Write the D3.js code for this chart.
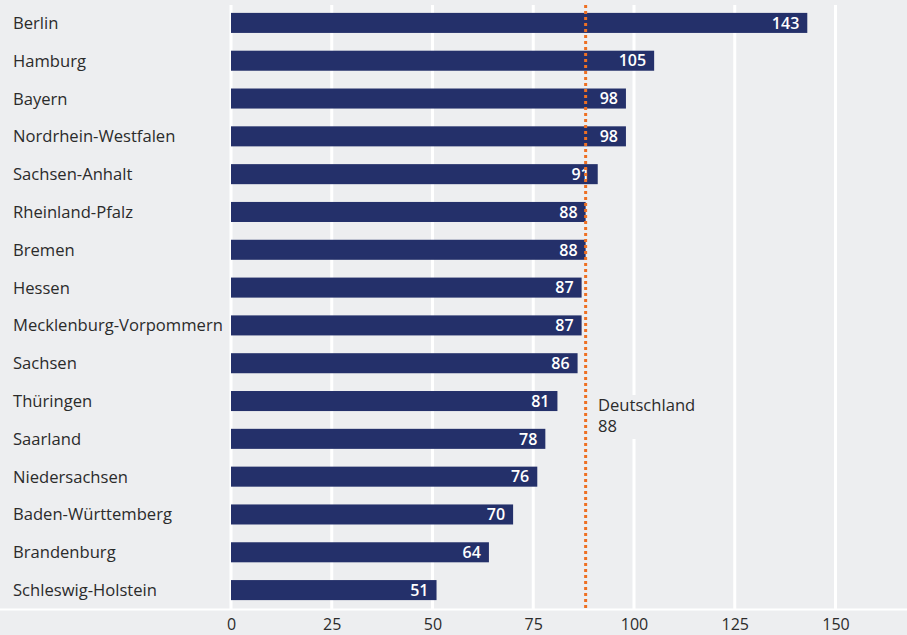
<!DOCTYPE html>
<html><head><meta charset="utf-8">
<script src="https://cdn.jsdelivr.net/npm/d3@7"></script>
<style>
html,body{margin:0;padding:0;background:#edeef0;}
svg{display:block;font-family:"Open Sans","Noto Sans",sans-serif;}
</style></head>
<body>
<svg id="chart" width="907" height="635"></svg>
<script>
const categories = ["Berlin","Hamburg","Bayern","Nordrhein-Westfalen","Sachsen-Anhalt","Rheinland-Pfalz","Bremen","Hessen","Mecklenburg-Vorpommern","Sachsen","Thüringen","Saarland","Niedersachsen","Baden-Württemberg","Brandenburg","Schleswig-Holstein"];
const values = [143,105,98,98,91,88,88,87,87,86,81,78,76,70,64,51];
const tickValues = [0,25,50,75,100,125,150];
const referenceValue = 88;
const referenceLabel = ["Deutschland","88"];

const svg = d3.select("#chart");
svg.append("rect").attr("width",907).attr("height",635).attr("fill","#edeef0");

const x = d3.scaleLinear().domain([0,150]).range([231,835.5]);
const y = d3.scaleBand().domain(categories).range([4,609]).paddingInner(0.47).paddingOuter(0.235);

// gridlines
svg.append("g").selectAll("line").data(tickValues).join("line")
  .attr("x1",d=>x(d)).attr("x2",d=>x(d)).attr("y1",5).attr("y2",609)
  .attr("stroke","#ffffff").attr("stroke-width",3);
// axis baseline
svg.append("line").attr("x1",0).attr("x2",907).attr("y1",609.5).attr("y2",609.5)
  .attr("stroke","#ffffff").attr("stroke-width",2);

// reference label background
svg.append("rect").attr("x",594).attr("y",395).attr("width",110).attr("height",44).attr("fill","#edeef0");

// bars
svg.append("g").selectAll("rect").data(values).join("rect")
  .attr("x",x(0)).attr("y",(d,i)=>y(categories[i]))
  .attr("width",d=>x(d)-x(0)).attr("height",y.bandwidth())
  .attr("fill","#24306a");

// value labels
svg.append("g").selectAll("text").data(values).join("text")
  .attr("x",d=>x(d)-8).attr("y",(d,i)=>y(categories[i])+y.bandwidth()/2)
  .attr("dy","0.36em").attr("text-anchor","end")
  .attr("fill","#ffffff").attr("font-size",16).attr("font-weight",600)
  .text(d=>d);

// category labels
svg.append("g").selectAll("text").data(categories).join("text")
  .attr("x",13).attr("y",d=>y(d)+y.bandwidth()/2).attr("dy","0.36em")
  .attr("fill","#2b2b2b").attr("font-size",16.6)
  .text(d=>d);

// reference line
svg.append("line").attr("x1",x(referenceValue)).attr("x2",x(referenceValue))
  .attr("y1",5).attr("y2",609)
  .attr("stroke","#ee7023").attr("stroke-width",3).attr("stroke-dasharray","3,3");

const rl = svg.append("text").attr("x",598).attr("y",411).attr("fill","#2b2b2b").attr("font-size",16.6);
rl.selectAll("tspan").data(referenceLabel).join("tspan")
  .attr("x",598).attr("dy",(d,i)=>i===0?0:21).text(d=>d);

// x axis tick labels
const axis = d3.axisBottom(x).tickValues(tickValues).tickSize(0).tickPadding(0);
const ag = svg.append("g").attr("transform","translate(0,619)").call(axis);
ag.select(".domain").remove();
ag.selectAll("text").attr("font-size",16).attr("fill","#2b2b2b")
  .attr("font-family","'Open Sans','Noto Sans',sans-serif").attr("dy","0.71em");
</script>
</body></html>
